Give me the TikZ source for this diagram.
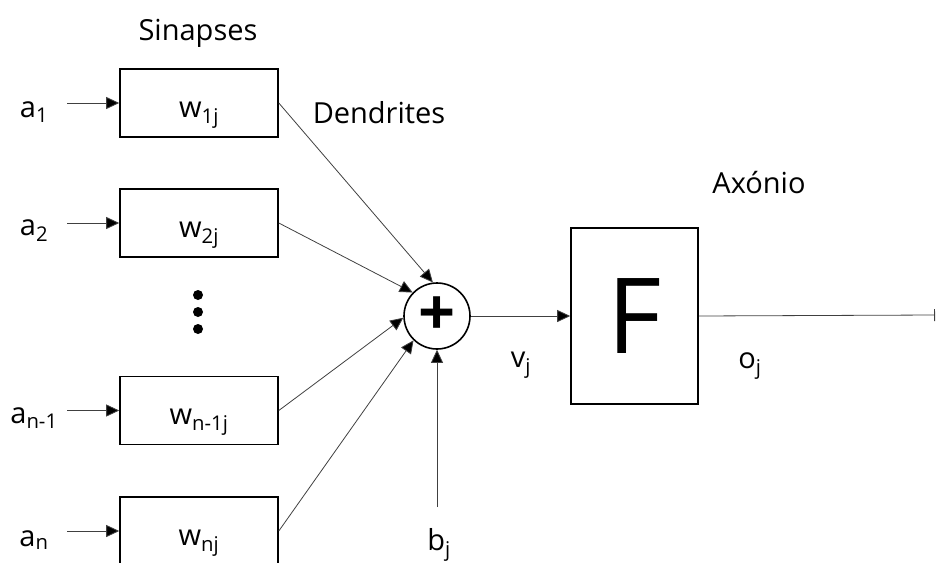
\documentclass[tikz,border=0pt]{standalone}
\usepackage{fontspec}
\setmainfont{Open Sans}
\usetikzlibrary{arrows.meta}
\tikzset{
  x=1pt, y=-1pt,
  lbl/.style={font=\fontsize{29}{32}\selectfont, inner sep=0pt, anchor=base},
  wbox/.style={draw, line width=1.6pt, minimum width=158pt, minimum height=68pt,
    inner sep=0pt, font=\fontsize{29}{32}\selectfont, text height=30pt, text depth=2pt},
  conn/.style={draw=black!75, line width=0.8pt, -{Triangle[length=13pt,width=12pt,fill=black]}},
}
\begin{document}
\begin{tikzpicture}
\useasboundingbox (0,0) rectangle (936,562);
\clip (0,0) rectangle (936,562);
% weight boxes
\node[wbox] (w1) at (199,103) {w\textsubscript{1j}};
\node[wbox] (w2) at (199,223) {w\textsubscript{2j}};
\node[wbox] (w3) at (199,410.5) {w\textsubscript{n-1j}};
\node[wbox] (w4) at (199,531) {w\textsubscript{nj}};
% input coordinates
\coordinate (i1) at (67,103);
\coordinate (i2) at (67,223);
\coordinate (i3) at (67,410.5);
\coordinate (i4) at (67,531);
% input labels
\node[lbl] (a1) at (34,117) {a\textsubscript{1}};
\node[lbl] (a2) at (34,235) {a\textsubscript{2}};
\node[lbl] (a3) at (34,423) {a\textsubscript{n-1}};
\node[lbl] (a4) at (34,546) {a\textsubscript{n}};
% dots
\fill (198,295) circle (5);
\fill (198,312) circle (5);
\fill (198,329) circle (5);
% sum
\node[draw, circle, line width=1.6pt, minimum size=66pt, inner sep=0pt] (sum) at (437,316) {};
\node[font=\fontsize{65}{65}\selectfont\bfseries, inner sep=0pt] (plus) at (437,316) {+};
% F box
\node[draw, line width=1.6pt, minimum width=127pt, minimum height=176pt, inner sep=0pt,
  font=\fontsize{105}{105}\selectfont] (F) at (634.5,316) {F};
% bias
\coordinate (b) at (437,507);
\coordinate (out) at (935,315);
% connectors
\draw[conn] (i1) -- (w1);
\draw[conn] (i2) -- (w2);
\draw[conn] (i3) -- (w3);
\draw[conn] (i4) -- (w4);
\draw[conn] (w1.east) -- (sum.97);
\draw[conn] (w2.east) -- (sum.136);
\draw[conn] (w3.east) -- (sum.183);
\draw[conn] (w4.east) -- (sum.226);
\draw[conn] (b) -- (sum.south);
\draw[conn] (sum.east) -- (F.west);
\draw[draw=black!75, line width=0.8pt, -{Bar[width=12pt]}] (F.east) -- (out);
% labels
\node[lbl] (sin) at (198,40) {Sinapses};
\node[lbl] (den) at (379,123) {Dendrites};
\node[lbl] (axo) at (759,193) {Axónio};
\node[lbl] (vj) at (521,367) {v\textsubscript{j}};
\node[lbl] (oj) at (750,368) {o\textsubscript{j}};
\node[lbl] (bj) at (439,550) {b\textsubscript{j}};
\end{tikzpicture}
\end{document}
